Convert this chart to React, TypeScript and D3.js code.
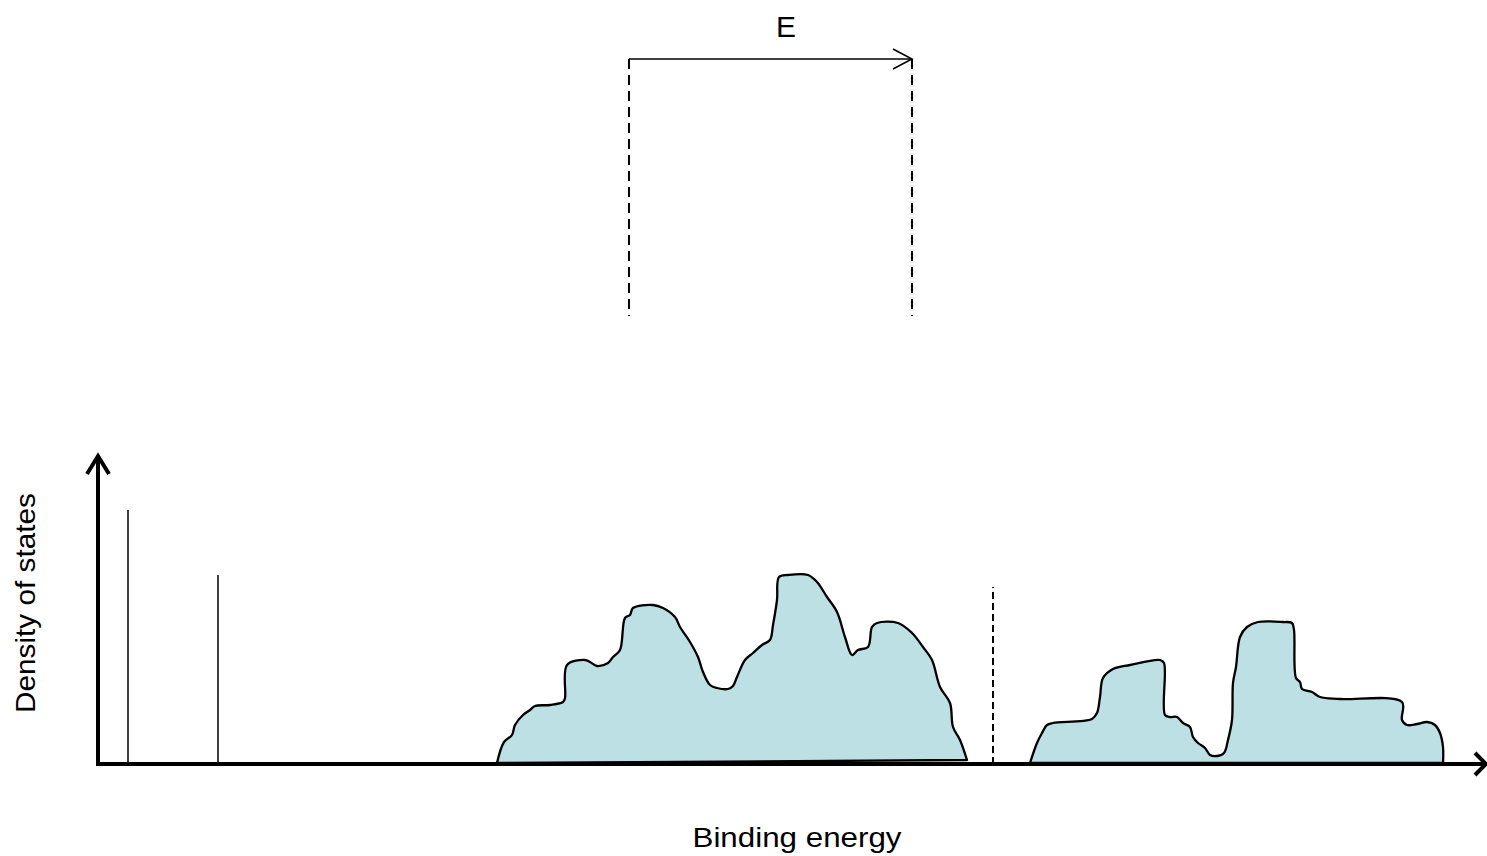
import * as d3 from "d3";

// schematic units: energy measured from the axis origin, DOS above baseline
const coreLevels: [number, number][] = [
  [30, 254],
  [120, 189],
];

const valenceBand: [number, number][] = [
  [399, 1], [406, 22], [414, 29], [417, 39], [425, 49], [432, 54], [437, 58],
  [452, 59], [465, 62], [467, 66], [469, 99], [487, 104], [492, 102], [499, 98],
  [510, 101], [515, 107], [522, 114], [527, 146], [532, 149], [535, 156],
  [555, 159], [565, 156], [577, 147], [582, 137], [592, 122], [600, 107],
  [605, 92], [612, 79], [619, 76], [630, 75], [635, 78], [639, 87], [647, 104],
  [655, 111], [664, 119], [672, 124], [675, 139], [679, 164], [681, 187],
  [690, 189], [710, 189], [719, 182], [729, 167], [739, 152], [747, 127],
  [754, 109], [760, 114], [770, 117], [774, 137], [779, 141], [800, 141],
  [814, 131], [825, 117], [834, 104], [842, 77], [852, 61], [855, 37],
  [862, 24], [869, 4],
];

const conductionBand: [number, number][] = [
  [932, 1], [939, 21], [944, 31], [949, 39], [955, 41], [994, 45], [999, 51],
  [1002, 67], [1005, 86], [1015, 95], [1032, 99], [1062, 104], [1066, 101],
  [1067, 49], [1072, 47], [1079, 47], [1085, 41], [1092, 37], [1095, 27],
  [1100, 21], [1107, 16], [1112, 9], [1119, 8], [1126, 11], [1130, 24],
  [1134, 44], [1135, 81], [1138, 97], [1142, 127], [1149, 137], [1160, 142],
  [1185, 142], [1194, 141], [1196, 134], [1198, 86], [1202, 82], [1204, 75],
  [1214, 72], [1222, 67], [1242, 65], [1304, 62], [1304, 44], [1309, 39],
  [1319, 40], [1329, 42], [1337, 39], [1342, 31], [1345, 17], [1345, 1],
];

const fermiLevel = { energy: 895, height: 177 };
const photonEnergy = { from: 531, to: 814, top: 705, bottom: 448 };

const xLabel = "Binding energy";
const yLabel = "Density of states";
const energyLabel = "E";

const W = 1487;
const H = 856;
const FONT = "'Liberation Sans', Arial, sans-serif";
const FILL = "#bce0e3";

export default function App() {
  const x = d3.scaleLinear().domain([0, 1390]).range([98, 1488]);
  const y = d3.scaleLinear().domain([0, 310]).range([764, 454]);

  const line = d3
    .line<[number, number]>()
    .x((d) => x(d[0]))
    .y((d) => y(d[1]))
    .curve(d3.curveCatmullRom.alpha(0.5));

  const x0 = x(0);
  const y0 = y(0);
  const yTip = y(308);
  const xTip = x(1388);

  const eFrom = x(photonEnergy.from);
  const eTo = x(photonEnergy.to);
  const eTop = y(photonEnergy.top);
  const eBottom = y(photonEnergy.bottom);

  return (
    <svg
      width={W}
      height={H}
      style={{ position: "absolute", left: 0, top: 0, background: "#fff" }}
    >
      {/* bands */}
      {[valenceBand, conductionBand].map((band, i) => (
        <path
          key={i}
          d={line(band) + "Z"}
          fill={FILL}
          stroke="#000"
          strokeWidth={2.3}
          strokeLinejoin="round"
        />
      ))}

      {/* core levels */}
      {coreLevels.map(([e, h], i) => (
        <line
          key={i}
          x1={x(e)}
          x2={x(e)}
          y1={y0}
          y2={y(h)}
          stroke="#000"
          strokeWidth={1.5}
        />
      ))}

      {/* Fermi level */}
      <line
        x1={x(fermiLevel.energy)}
        x2={x(fermiLevel.energy)}
        y1={y0}
        y2={y(fermiLevel.height)}
        stroke="#000"
        strokeWidth={2}
        strokeDasharray="7,4"
      />

      {/* axes */}
      <line x1={x0} x2={xTip} y1={y0} y2={y0} stroke="#000" strokeWidth={4} />
      <line x1={x0} x2={x0} y1={y0 + 2} y2={yTip} stroke="#000" strokeWidth={4} />
      <path
        d={`M${x0 - 11},${yTip + 18}L${x0},${yTip}L${x0 + 11},${yTip + 18}`}
        fill="none"
        stroke="#000"
        strokeWidth={4}
      />
      <path
        d={`M${xTip - 11},${y0 - 11}L${xTip},${y0}L${xTip - 11},${y0 + 11}`}
        fill="none"
        stroke="#000"
        strokeWidth={4}
      />

      {/* photon energy bracket */}
      {[eFrom, eTo].map((px, i) => (
        <line
          key={i}
          x1={px}
          x2={px}
          y1={eTop}
          y2={eBottom}
          stroke="#000"
          strokeWidth={2}
          strokeDasharray="10,6"
        />
      ))}
      <line x1={eFrom} x2={eTo} y1={eTop} y2={eTop} stroke="#000" strokeWidth={1.5} />
      <path
        d={`M${eTo - 19},${eTop - 10}L${eTo},${eTop}L${eTo - 19},${eTop + 10}`}
        fill="none"
        stroke="#000"
        strokeWidth={1.5}
      />
      <text
        x={786}
        y={37}
        textAnchor="middle"
        fontFamily={FONT}
        fontSize={30}
        fill="#000"
      >
        {energyLabel}
      </text>

      {/* axis labels */}
      <text
        x={797}
        y={847}
        textAnchor="middle"
        fontFamily={FONT}
        fontSize={28}
        textLength={209}
        lengthAdjust="spacingAndGlyphs"
        fill="#000"
      >
        {xLabel}
      </text>
      <text
        transform="translate(35,603) rotate(-90)"
        textAnchor="middle"
        fontFamily={FONT}
        fontSize={28}
        textLength={220}
        lengthAdjust="spacingAndGlyphs"
        fill="#000"
      >
        {yLabel}
      </text>
    </svg>
  );
}
